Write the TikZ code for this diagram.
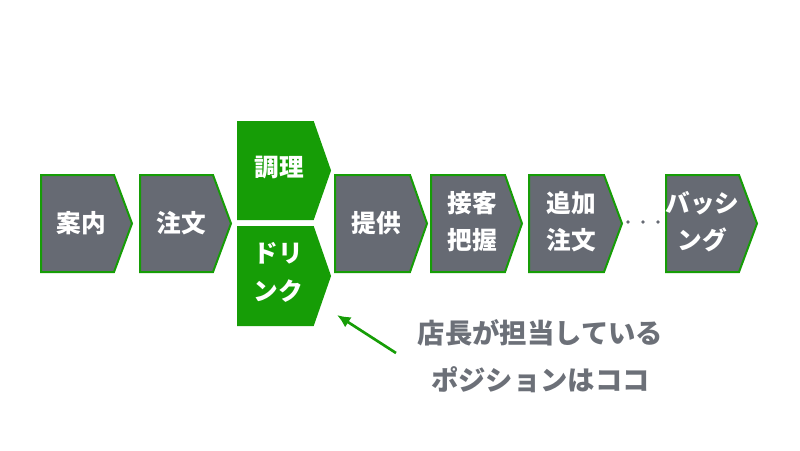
\documentclass[tikz,border=0pt]{standalone}
\usepackage{fontspec}
\usetikzlibrary{arrows.meta}
\newfontfamily\jpfont{Noto Sans CJK JP}
\definecolor{stepgray}{RGB}{102,106,115}
\definecolor{stepgreen}{RGB}{22,157,6}
\definecolor{notegray}{RGB}{108,112,120}
\tikzset{every picture/.style={line width=0.75pt}}
\tikzset{
  grayshape/.style={draw=stepgreen, line width=1.5pt, fill=stepgray},
  greenshape/.style={draw=stepgreen, line width=1.5pt, fill=stepgreen},
  steptext/.style={text=white, align=center, font=\jpfont\bfseries\fontsize{18.5}{28}\selectfont},
  notetext/.style={text=notegray, align=center, font=\jpfont\bfseries\fontsize{20.5}{35}\selectfont}
}
\begin{document}
\begin{tikzpicture}[x=0.75pt,y=0.75pt,yscale=-1,xscale=1]
	\path[use as bounding box] (0,0) rectangle (800,450); %set diagram to 800 x 450

	%Shape: Step [id:anai]
	\draw [grayshape] (41,175) -- (114,175) -- (132,223.5) -- (114,272) -- (41,272) -- cycle ;
	%Shape: Step [id:chumon]
	\draw [grayshape] (140,175) -- (213,175) -- (231,223.5) -- (213,272) -- (140,272) -- cycle ;
	%Shape: Step [id:chori]
	\draw [greenshape] (238,122) -- (313,122) -- (330,170.5) -- (313,219) -- (238,219) -- cycle ;
	%Shape: Step [id:drink]
	\draw [greenshape] (238,227) -- (313,227) -- (330,276) -- (313,325) -- (238,325) -- cycle ;
	%Shape: Step [id:teikyo]
	\draw [grayshape] (335,175) -- (410,175) -- (427,223.5) -- (410,272) -- (335,272) -- cycle ;
	%Shape: Step [id:sekkyaku]
	\draw [grayshape] (431,175) -- (505,175) -- (522,223.5) -- (505,272) -- (431,272) -- cycle ;
	%Shape: Step [id:tsuika]
	\draw [grayshape] (529,175) -- (604,175) -- (622,223.5) -- (604,272) -- (529,272) -- cycle ;
	%Shape: Step [id:bashing]
	\draw [grayshape] (666,175) -- (739,175) -- (757,223.5) -- (739,272) -- (666,272) -- cycle ;

	%Shape: Dots
	\fill [stepgray] (628,222) circle (1.8) (643,222) circle (1.8) (658,222) circle (1.8) ;

	% Text Node
	\draw (81,223) node (anai) [steptext] {案内};
	% Text Node
	\draw (181,223) node (chumon) [steptext] {注文};
	% Text Node
	\draw (279,168) node (chori) [steptext] {調理};
	% Text Node
	\draw (278,272.5) node (drink) [steptext] {ドリ\\ンク};
	% Text Node
	\draw (376,223) node (teikyo) [steptext] {提供};
	% Text Node
	\draw (472.5,221.5) node (sekkyaku) [steptext] {接客\\把握};
	% Text Node
	\draw (571.5,221.5) node (tsuika) [steptext] {追加\\注文};
	% Text Node
	\draw (702.5,221.5) node (bashing) [steptext] {バッシ\\ング};

	% Text Node
	\draw (540.5,356.5) node (note) [notetext] {店長が担当している\\ポジションはココ};

	%Straight Lines [id:pointer]
	\coordinate (tail) at (396,353) ;
	\coordinate (head) at (337,315) ;
	\draw [stepgreen, line width=2pt, -{Latex[length=10pt,width=9pt]}] (tail) -- (head) ;

\end{tikzpicture}
\end{document}
